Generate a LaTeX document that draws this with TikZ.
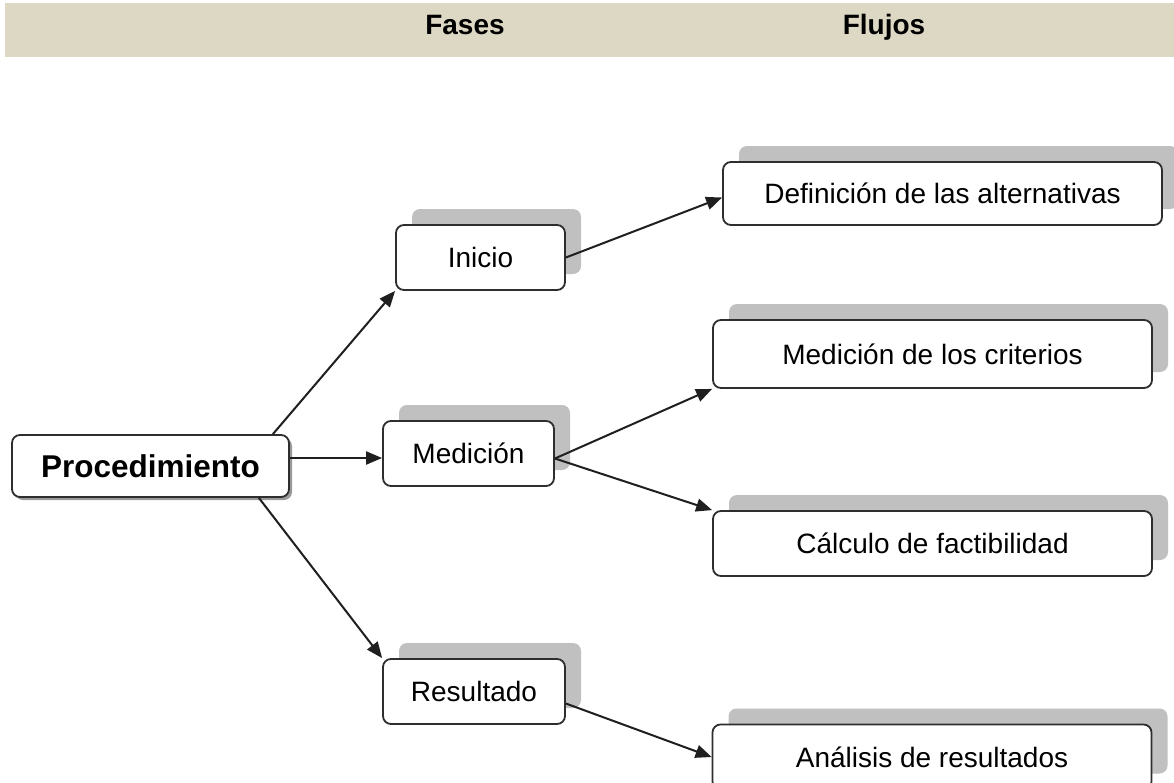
\documentclass[tikz,border=0pt]{standalone}
\usepackage{fontspec}
\setmainfont{Liberation Sans}
\usetikzlibrary{arrows.meta,shadows,calc}
\definecolor{band}{HTML}{DDD8C3}
\definecolor{shgray}{HTML}{C0C0C0}
\definecolor{edgec}{HTML}{2E2E2E}
\begin{document}
\begin{tikzpicture}[x=1pt,y=-1pt,
  basebox/.style={draw=edgec, line width=1.8pt, rounded corners=8pt, fill=white,
    inner sep=0pt, font=\fontsize{28}{34}\selectfont},
  box/.style={basebox, drop shadow={shadow xshift=16pt, shadow yshift=16pt, fill=shgray, opacity=1}},
  procbox/.style={basebox, font=\bfseries\fontsize{31.5}{36}\selectfont,
    drop shadow={shadow xshift=3pt, shadow yshift=-3pt, fill=black!40, opacity=1}},
  phase/.style={box, minimum height=65pt},
  flow/.style={box, minimum width=439pt, minimum height=65pt},
  arr/.style={-{Triangle[length=16pt,width=13pt]}, line width=2pt, draw=black!88},
  head/.style={font=\bfseries\fontsize{28}{34}\selectfont, anchor=base, inner sep=0pt}]
\clip (0,0) rectangle (1174,782);
\fill[white] (0,0) rectangle (1174,782);
\fill[band] (5,3) rectangle (1174,57);
\node[head] (hf) at (465,34) {Fases};
\node[head] (hl) at (884,34) {Flujos};

\node[procbox, minimum width=277pt, minimum height=62pt] (proc) at (150.5,466) {Procedimiento};
\node[phase, minimum width=169pt] (ini) at (480.5,257.5) {Inicio};
\node[phase, minimum width=171pt] (med) at (468.5,453.5) {Medición};
\node[phase, minimum width=182pt] (res) at (474,691.5) {Resultado};

\node[flow, minimum height=63pt] (def) at (942.5,193.5) {Definición de las alternativas};
\node[flow, minimum height=68pt] (crit) at (932.5,354) {Medición de los criterios};
\node[flow] (calc) at (932.5,543.5) {Cálculo de factibilidad};
\node[flow] (anal) at (932,757) {Análisis de resultados};

\coordinate (pm) at ($(proc.east)+(0,-8)$);
\draw[arr] ($(proc.north east)+(-17,0)$) -- (ini.south west);
\draw[arr] (pm) -- (pm -| med.west);
\draw[arr] ($(proc.south east)+(-31,0)$) -- (res.north west);
\draw[arr] (ini.east) -- ($(def.west)+(0,4)$);
\coordinate (mo) at ($(med.east)+(0,5)$);
\draw[arr] (mo) -- (crit.south west);
\draw[arr] (mo) -- (calc.north west);
\draw[arr] ($(res.east)+(0,12)$) -- (anal.west);
\end{tikzpicture}
\end{document}
